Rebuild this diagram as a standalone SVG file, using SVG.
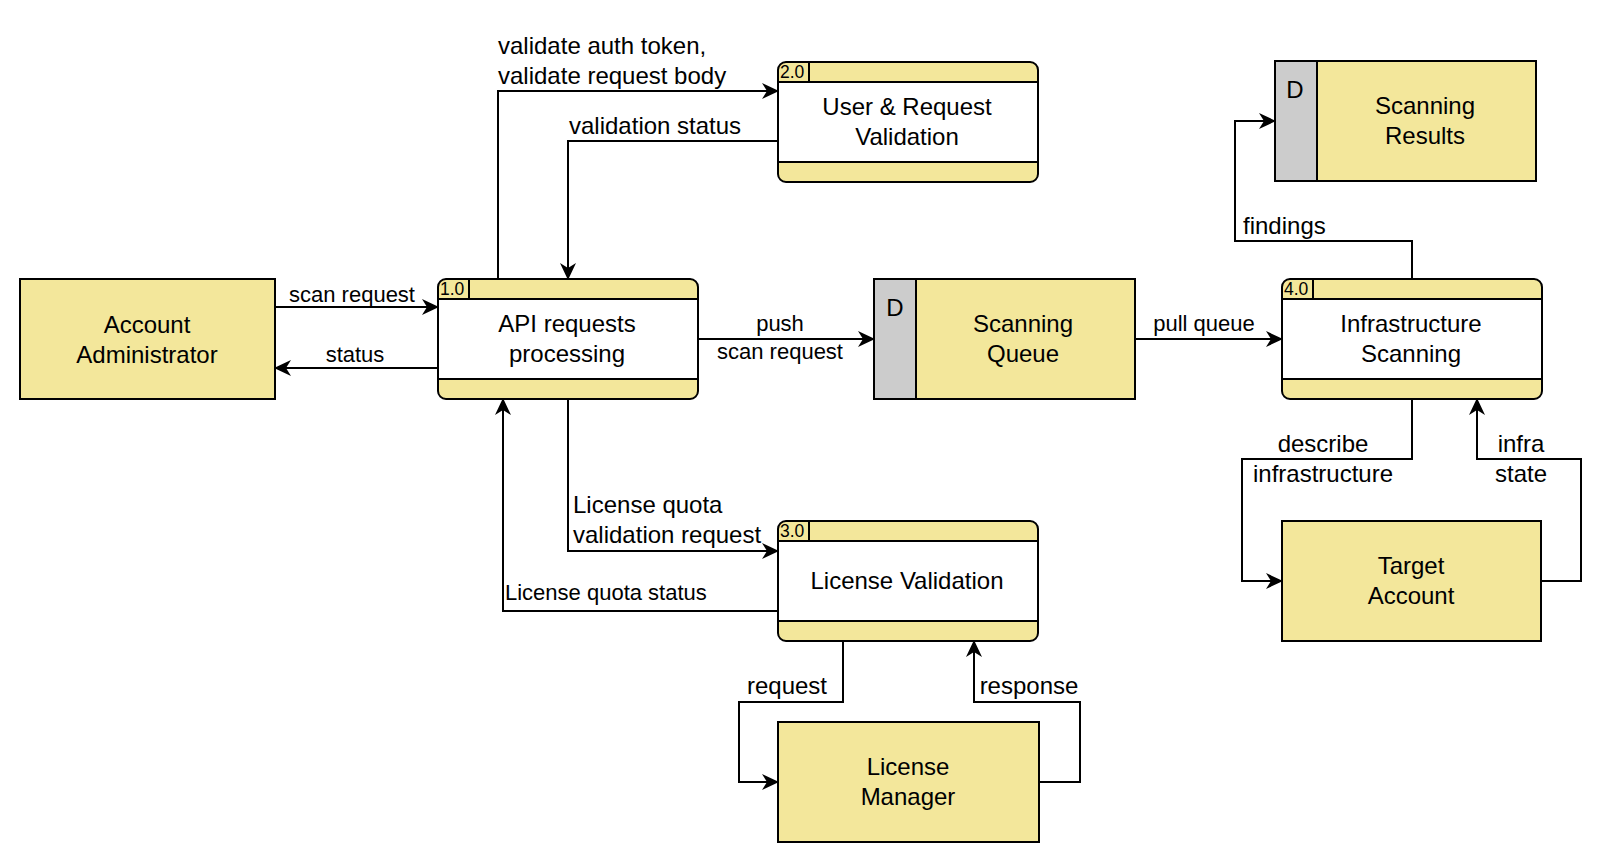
<svg xmlns="http://www.w3.org/2000/svg" width="1620" height="862" viewBox="0 0 1620 862">
<style>
text{font-family:"Liberation Sans",Arial,Helvetica,sans-serif;fill:#000}
.ext{fill:#F3E79B;stroke:#000;stroke-width:2}
.band{fill:#F3E79B;stroke:none}
.white{fill:#fff;stroke:none}
.outline{fill:none;stroke:#000;stroke-width:2}
.ln{stroke:#000;stroke-width:2;fill:none}
.gray{fill:#CCCCCC;stroke:#000;stroke-width:2}
.lbl{font-size:24px;text-anchor:middle}
.num{font-size:17.5px}
.el{font-size:24px}
.es{font-size:22px}
.mid{text-anchor:middle}
.dd{font-size:24px;text-anchor:middle}
.edge{stroke:#000;stroke-width:2;fill:none;marker-end:url(#arr)}
</style>
<defs>
<marker id="arr" markerUnits="userSpaceOnUse" viewBox="0 0 17 16" markerWidth="17" markerHeight="16" refX="16" refY="8" orient="auto">
<path d="M0,0 L17,8 L0,16 L5,8 Z" fill="#000"/>
</marker>
</defs>
<rect width="1620" height="862" fill="#fff"/>

<g id="connectors">
<path class="edge" d="M275,307 H438"/>
<path class="edge" d="M438,368 H275"/>
<path class="edge" d="M498,279 V91 H778"/>
<path class="edge" d="M778,141 H568 V279"/>
<path class="edge" d="M698,339 H874"/>
<path class="edge" d="M1135,339 H1282"/>
<path class="edge" d="M1412,279 V241 H1235 V121 H1275"/>
<path class="edge" d="M1412,399 V459 H1242 V581 H1282"/>
<path class="edge" d="M1541,581 H1581 V459 H1477 V399"/>
<path class="edge" d="M568,399 V551 H778"/>
<path class="edge" d="M778,611 H503 V399"/>
<path class="edge" d="M843,641 V702 H739 V782 H778"/>
<path class="edge" d="M1039,782 H1080 V702 H974 V641"/>
<text class="es mid" x="352" y="302">scan request</text>
<text class="es mid" x="355" y="362">status</text>
<text class="el" x="498" y="54">validate auth token,</text>
<text class="el" x="498" y="84">validate request body</text>
<text class="el" x="569" y="134">validation status</text>
<text class="es mid" x="780" y="331">push</text>
<text class="es mid" x="780" y="359">scan request</text>
<text class="es mid" x="1204" y="331">pull queue</text>
<text class="el" x="1243" y="234">findings</text>
<text class="el mid" x="1323" y="452">describe</text>
<text class="el mid" x="1323" y="482">infrastructure</text>
<text class="el mid" x="1521" y="452">infra</text>
<text class="el mid" x="1521" y="482">state</text>
<text class="el" x="573" y="513">License quota</text>
<text class="el" x="573" y="543">validation request</text>
<text class="es" x="505" y="600">License quota status</text>
<text class="el mid" x="787" y="694">request</text>
<text class="el mid" x="1029" y="694">response</text>
</g>

<g id="account-administrator">
<rect class="ext" x="20" y="279" width="255" height="120"/>
<text class="lbl" x="147" y="333">Account<tspan x="147" dy="30">Administrator</tspan></text>
</g>

<g id="p1-api-requests">
<rect class="band" x="438" y="279" width="260" height="120" rx="8"/>
<rect class="white" x="438" y="299" width="260" height="80"/>
<line class="ln" x1="438" y1="299" x2="698" y2="299"/>
<line class="ln" x1="438" y1="379" x2="698" y2="379"/>
<line class="ln" x1="469" y1="279" x2="469" y2="299"/>
<rect class="outline" x="438" y="279" width="260" height="120" rx="8"/>
<text class="num" x="440" y="295">1.0</text>
<text class="lbl" x="567" y="332">API requests<tspan x="567" dy="30">processing</tspan></text>
</g>

<g id="p2-user-request-validation">
<rect class="band" x="778" y="62" width="260" height="120" rx="8"/>
<rect class="white" x="778" y="82" width="260" height="80"/>
<line class="ln" x1="778" y1="82" x2="1038" y2="82"/>
<line class="ln" x1="778" y1="162" x2="1038" y2="162"/>
<line class="ln" x1="809" y1="62" x2="809" y2="82"/>
<rect class="outline" x="778" y="62" width="260" height="120" rx="8"/>
<text class="num" x="780" y="78">2.0</text>
<text class="lbl" x="907" y="115">User &amp; Request<tspan x="907" dy="30">Validation</tspan></text>
</g>

<g id="ds-scanning-queue">
<rect class="ext" x="874" y="279" width="261" height="120"/>
<rect class="gray" x="874" y="279" width="42" height="120"/>
<text class="dd" x="895" y="316">D</text>
<text class="lbl" x="1023" y="332">Scanning<tspan x="1023" dy="30">Queue</tspan></text>
</g>

<g id="ds-scanning-results">
<rect class="ext" x="1275" y="61" width="261" height="120"/>
<rect class="gray" x="1275" y="61" width="42" height="120"/>
<text class="dd" x="1295" y="98">D</text>
<text class="lbl" x="1425" y="114">Scanning<tspan x="1425" dy="30">Results</tspan></text>
</g>

<g id="p4-infrastructure-scanning">
<rect class="band" x="1282" y="279" width="260" height="120" rx="8"/>
<rect class="white" x="1282" y="299" width="260" height="80"/>
<line class="ln" x1="1282" y1="299" x2="1542" y2="299"/>
<line class="ln" x1="1282" y1="379" x2="1542" y2="379"/>
<line class="ln" x1="1313" y1="279" x2="1313" y2="299"/>
<rect class="outline" x="1282" y="279" width="260" height="120" rx="8"/>
<text class="num" x="1284" y="295">4.0</text>
<text class="lbl" x="1411" y="332">Infrastructure<tspan x="1411" dy="30">Scanning</tspan></text>
</g>

<g id="target-account">
<rect class="ext" x="1282" y="521" width="259" height="120"/>
<text class="lbl" x="1411" y="574">Target<tspan x="1411" dy="30">Account</tspan></text>
</g>

<g id="p3-license-validation">
<rect class="band" x="778" y="521" width="260" height="120" rx="8"/>
<rect class="white" x="778" y="541" width="260" height="80"/>
<line class="ln" x1="778" y1="541" x2="1038" y2="541"/>
<line class="ln" x1="778" y1="621" x2="1038" y2="621"/>
<line class="ln" x1="809" y1="521" x2="809" y2="541"/>
<rect class="outline" x="778" y="521" width="260" height="120" rx="8"/>
<text class="num" x="780" y="537">3.0</text>
<text class="lbl" x="907" y="589">License Validation</text>
</g>

<g id="license-manager">
<rect class="ext" x="778" y="722" width="261" height="120"/>
<text class="lbl" x="908" y="775">License<tspan x="908" dy="30">Manager</tspan></text>
</g>
</svg>
